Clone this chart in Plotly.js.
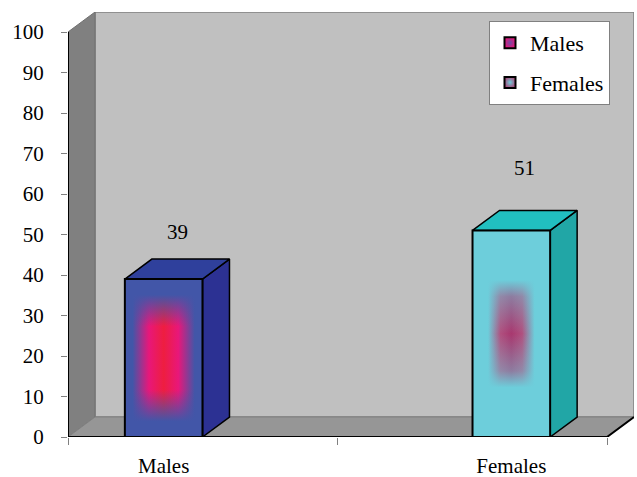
<!DOCTYPE html>
<html><head><meta charset="utf-8">
<script src="https://cdn.plot.ly/plotly-3.0.1.min.js"></script>
<style>html,body{margin:0;padding:0;background:#fff;} #chart{width:637px;height:477px;}</style>
</head><body><div id="chart"></div>
<script>
// ---- data ----
const categories = ['Males', 'Females'];
const values = [39, 51];
const yTickVals = [0, 10, 20, 30, 40, 50, 60, 70, 80, 90, 100];
const legendLabels = ['Males', 'Females'];

// ---- layout geometry ----
const W = 637, H = 477;
const M = {l: 68, r: 3, t: 12, b: 40, pad: 0};
const plotW = W - M.l - M.r;
const plotH = H - M.t - M.b;
const depthPx = {x: 27, y: 20};
const nCat = categories.length;
const xUnitPx = (plotW - depthPx.x) / nCat;
const DX = depthPx.x / xUnitPx;
const yUnitPx = (plotH - depthPx.y) / 100;
const DY = depthPx.y / yUnitPx;
const yMax = 100 + DY;
const barW = 0.288;
function center(i) { return i + 0.5 + (i - (nCat - 1) / 2) * 0.29; }

const FONT = '"Liberation Serif", "Times New Roman", serif';

const styles = [
  {edge: '#4256A8', pink: '#E8177A', core: '#EE1E40', top: '#2F409C', side: '#2C3193',
   hScale: [[0, 0], [0.1, 0], [0.31, 1], [0.5, 2], [0.69, 1], [0.9, 0], [1, 0]],
   vAlpha: [[0, 1], [0.1, 1], [0.3, 0], [0.7, 0], [0.9, 1], [1, 1]],
   legCenter: '#E8177A', legEdge: '#6A4CA6'},
  {edge: '#6DCEDB', pink: '#B0507F', core: '#A8386F', top: '#21BFC0', side: '#21A6A6',
   hScale: [[0, 0], [0.2, 0], [0.36, 1], [0.5, 2], [0.64, 1], [0.8, 0], [1, 0]],
   vAlpha: [[0, 1], [0.24, 1], [0.32, 0.45], [0.5, 0], [0.68, 0.45], [0.76, 1], [1, 1]],
   legCenter: '#A8507F', legEdge: '#6DCEDB'}
];

function rgba(hex, a) {
  const n = parseInt(hex.slice(1), 16);
  return 'rgba(' + ((n >> 16) & 255) + ',' + ((n >> 8) & 255) + ',' + (n & 255) + ',' + a + ')';
}

const traces = [];
values.forEach(function (v, i) {
  const s = styles[i];
  const c = center(i);
  const x0 = c - barW / 2, x1 = c + barW / 2;
  // side face
  traces.push({type: 'scatter', mode: 'lines', fill: 'toself', fillcolor: s.side,
    x: [x1, x1 + DX, x1 + DX, x1, x1], y: [0, DY, v + DY, v, 0],
    line: {color: '#000', width: 1.5}, showlegend: false, hoverinfo: 'skip'});
  // top face
  traces.push({type: 'scatter', mode: 'lines', fill: 'toself', fillcolor: s.top,
    x: [x0, x1, x1 + DX, x0 + DX, x0], y: [v, v, v + DY, v + DY, v],
    line: {color: '#000', width: 1.5}, showlegend: false, hoverinfo: 'skip'});
  // front face: horizontal gradient
  const cols = [s.edge, s.pink, s.core];
  traces.push({type: 'scatter', mode: 'lines', fill: 'toself',
    x: [x0, x1, x1, x0, x0], y: [0, 0, v, v, 0],
    fillgradient: {type: 'horizontal', colorscale: s.hScale.map(function (p) { return [p[0], cols[p[1]]]; })},
    line: {width: 0}, showlegend: false, hoverinfo: 'skip'});
  // front face: vertical fade overlay
  traces.push({type: 'scatter', mode: 'lines', fill: 'toself',
    x: [x0, x1, x1, x0, x0], y: [0, 0, v, v, 0],
    fillgradient: {type: 'vertical', colorscale: s.vAlpha.map(function (p) { return [p[0], rgba(s.edge, p[1])]; })},
    line: {color: '#000', width: 2}, showlegend: false, hoverinfo: 'skip'});
});

// legend entries
legendLabels.forEach(function (name, i) {
  const s = styles[i];
  traces.push({type: 'scatter', mode: 'markers', name: name, x: [null], y: [null],
    legendgroup: 'g' + i,
    marker: {symbol: 'square', size: 11, color: s.legCenter,
      gradient: {type: 'radial', color: s.legEdge},
      line: {color: '#000', width: 2}}});
});

const shapes = [
  // back wall
  {type: 'rect', xref: 'x', yref: 'y', x0: DX, x1: nCat + DX, y0: DY, y1: yMax,
   fillcolor: '#C0C0C0', line: {color: '#808080', width: 1.5}, layer: 'below'},
  // left wall
  {type: 'path', xref: 'x', yref: 'y', layer: 'below',
   path: 'M 0 0 L ' + DX + ' ' + DY + ' L ' + DX + ' ' + yMax + ' L 0 100 Z',
   fillcolor: '#808080', line: {color: '#707070', width: 1}},
  // floor
  {type: 'path', xref: 'x', yref: 'y', layer: 'below',
   path: 'M 0 0 L ' + nCat + ' 0 L ' + (nCat + DX) + ' ' + DY + ' L ' + DX + ' ' + DY + ' Z',
   fillcolor: '#969696', line: {color: '#808080', width: 1}},
  // axis lines
  {type: 'path', xref: 'x', yref: 'y', layer: 'below',
   path: 'M 0 100 L 0 0 L ' + nCat + ' 0 L ' + (nCat + DX) + ' ' + DY,
   line: {color: '#000', width: 2}}
];

const annotations = values.map(function (v, i) {
  return {x: center(i) + DX / 2, y: v * 1.3, xref: 'x', yref: 'y', text: String(v),
    showarrow: false, font: {family: FONT, size: 21, color: '#000'}};
});

const catTicks = [];
for (let k = 0; k <= nCat; k++) catTicks.push(k);

const layout = {
  width: W, height: H, autosize: false,
  margin: M,
  paper_bgcolor: '#fff', plot_bgcolor: '#fff',
  font: {family: FONT, size: 21, color: '#000'},
  showlegend: true,
  legend: {x: (489 - M.l) / plotW, xanchor: 'left', y: (H - M.b - 21) / plotH, yanchor: 'top',
    bgcolor: '#fff', bordercolor: '#808080', borderwidth: 1,
    font: {family: FONT, size: 22, color: '#000'},
    traceorder: 'grouped', tracegroupgap: 8},
  xaxis: {range: [0, nCat + DX], showgrid: false, zeroline: false, showline: false,
    tickmode: 'array', tickvals: categories.map(function (_, i) { return center(i); }),
    ticktext: categories, ticks: '', ticklabelstandoff: 14,
    tickfont: {family: FONT, size: 21, color: '#000'},
    minor: {tickmode: 'array', tickvals: catTicks, ticks: 'outside', ticklen: 7, tickcolor: '#808080', tickwidth: 1, showgrid: false},
    fixedrange: true},
  yaxis: {range: [0, yMax], showgrid: false, zeroline: false, showline: false,
    tickmode: 'array', tickvals: yTickVals, ticks: 'outside', ticklen: 6,
    tickfont: {family: FONT, size: 21, color: '#000'},
    tickcolor: '#808080', tickwidth: 1, ticklabelstandoff: 13, fixedrange: true},
  shapes: shapes,
  annotations: annotations
};

Plotly.newPlot('chart', traces, layout, {displayModeBar: false, staticPlot: true});
</script>
</body></html>
